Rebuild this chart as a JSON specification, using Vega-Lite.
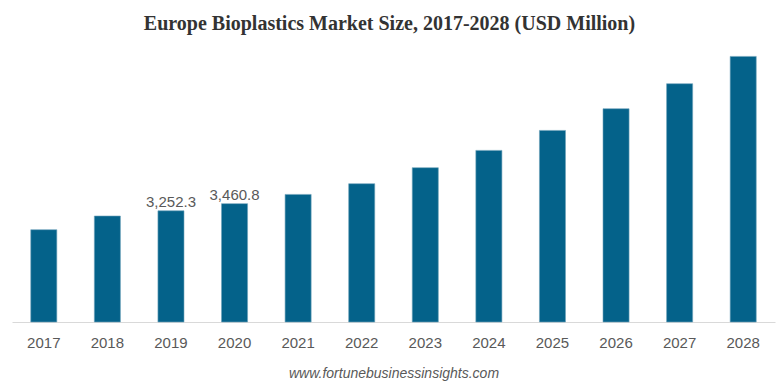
{
  "$schema": "https://vega.github.io/schema/vega-lite/v6.json",
  "autosize": "none",
  "width": 763,
  "height": 280,
  "padding": {"left": 12, "top": 42, "right": 3, "bottom": 65},
  "background": "white",
  "title": {
    "text": "Europe Bioplastics Market Size, 2017-2028 (USD Million)",
    "font": "Liberation Serif",
    "fontSize": 20,
    "fontWeight": "bold",
    "color": "#333333",
    "anchor": "middle",
    "offset": 6,
    "dx": -4
  },
  "data": {
    "values": [
      {"year": "2017", "value": 2699, "label": ""},
      {"year": "2018", "value": 3099, "label": ""},
      {"year": "2019", "value": 3252.3, "label": "3,252.3"},
      {"year": "2020", "value": 3460.8, "label": "3,460.8"},
      {"year": "2021", "value": 3731, "label": ""},
      {"year": "2022", "value": 4044, "label": ""},
      {"year": "2023", "value": 4512, "label": ""},
      {"year": "2024", "value": 5018, "label": ""},
      {"year": "2025", "value": 5602, "label": ""},
      {"year": "2026", "value": 6237, "label": ""},
      {"year": "2027", "value": 6968, "label": ""},
      {"year": "2028", "value": 7766, "label": ""}
    ]
  },
  "encoding": {
    "x": {
      "field": "year",
      "type": "ordinal",
      "scale": {"paddingInner": 0.59, "paddingOuter": 0.295},
      "axis": {
        "title": "www.fortunebusinessinsights.com",
        "titleFont": "Liberation Sans",
        "titleFontStyle": "italic",
        "titleFontWeight": "normal",
        "titleFontSize": 14,
        "titleColor": "#595959",
        "titlePadding": 16,
        "labelAngle": 0,
        "labelFont": "Liberation Sans",
        "labelFontSize": 15,
        "labelColor": "#595959",
        "labelPadding": 13,
        "ticks": false,
        "domainColor": "#d9d9d9",
        "domainWidth": 1
      }
    },
    "y": {
      "field": "value",
      "type": "quantitative",
      "scale": {"domain": [0, 8187], "nice": false},
      "axis": null
    }
  },
  "layer": [
    {
      "mark": {"type": "bar", "color": "#04628a", "stroke": "#6fa3ba", "strokeWidth": 0.6}
    },
    {
      "mark": {"type": "text", "baseline": "alphabetic", "dy": -4, "font": "Liberation Sans", "fontSize": 15, "color": "#595959"},
      "encoding": {"text": {"field": "label"}}
    }
  ],
  "config": {"view": {"stroke": null}}
}
